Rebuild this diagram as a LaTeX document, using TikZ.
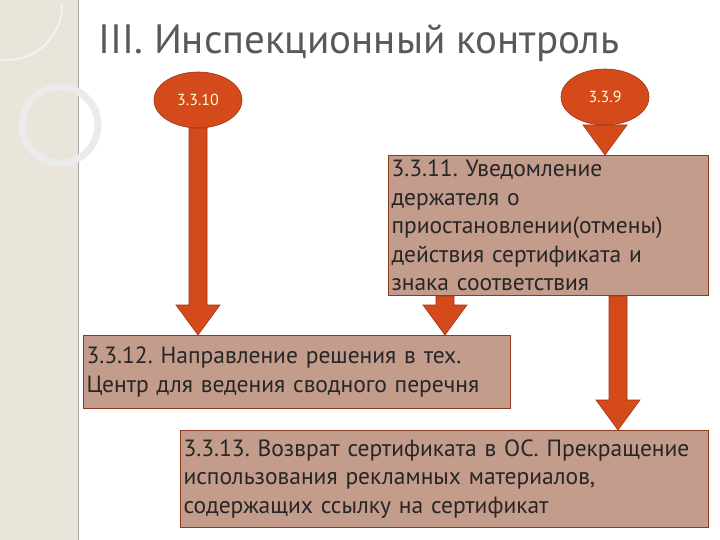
\documentclass[tikz,border=0pt]{standalone}
\usepackage{fontspec}
\setmainfont{PT Sans}
\usetikzlibrary{shapes.geometric}
\definecolor{orng}{HTML}{D44A1A}
\definecolor{orngd}{HTML}{A0341A}
\definecolor{boxf}{HTML}{C39C8C}
\definecolor{boxb}{HTML}{8E3A1E}
\definecolor{strip}{HTML}{E9E5DB}
\newcommand\myarr[3]{\fill[orng,draw=orngd,line width=0.6pt] (#1-9,-#2) -- (#1+9,-#2) -- (#1+9,-#3+30) -- (#1+22,-#3+30) -- (#1,-#3) -- (#1-22,-#3+30) -- (#1-9,-#3+30) -- cycle;}
\frenchspacing
\begin{document}
\begin{tikzpicture}[x=1pt,y=1pt,
  oval/.style={ellipse,fill=orng,draw=orngd,line width=0.6pt,minimum width=88pt,minimum height=56pt,inner sep=0pt,text=white!85!yellow,font=\fontsize{16}{18}\selectfont},
  tbox/.style={rectangle,fill=boxf,draw=boxb,line width=1pt,anchor=north west,inner sep=3pt,align=left,text=black!85,font=\fontsize{23.5}{28.5}\selectfont\frenchspacing}]
\useasboundingbox (0,0) rectangle (720,-540);
\fill[white] (0,0) rectangle (720,-540);
\fill[strip] (0,0) rectangle (78,-540);
\draw[gray!70,line width=1pt] (78,0) -- (78,-540);
\draw[white!60!strip,line width=1.5pt] (62,-5) arc (0:-140:55);
\draw[black!8,line width=7pt] (60,-125) circle (38);
\node[anchor=west,text=black!65,font=\fontsize{41}{44}\selectfont] (title) at (95,-43) {III. Инспекционный контроль};
\node[oval] (o10) at (198,-100) {3.3.10};
\node[oval] (o9) at (605,-97) {3.3.9};
\node[tbox,minimum width=320pt,minimum height=140pt,text width=314pt] (b11) at (388,-155) {3.3.11. Уведомление\\держателя о\\приостановлении(отмены)\\действия сертификата и\\знака соответствия};
\node[tbox,minimum width=427pt,minimum height=73pt,text width=421pt] (b12) at (83,-335) {3.3.12. Направление решения в тех.\\Центр для ведения сводного перечня};
\node[tbox,minimum width=528pt,minimum height=97pt,text width=522pt] (b13) at (180,-430) {3.3.13. Возврат сертификата в ОС. Прекращение\\использования рекламных материалов,\\содержащих ссылку на сертификат};
\myarr{198}{128}{335}
\myarr{605}{125}{155}
\myarr{445}{296}{335}
\myarr{618}{296}{430}
\end{tikzpicture}
\end{document}
